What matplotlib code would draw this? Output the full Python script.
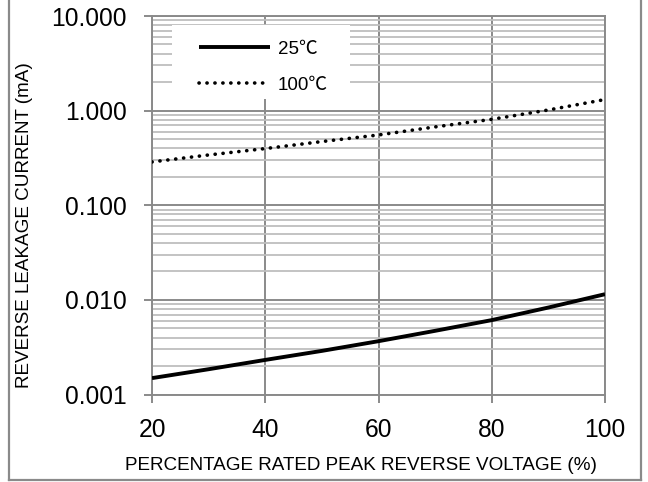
import matplotlib
matplotlib.use("Agg")
import matplotlib.pyplot as plt
from matplotlib.patches import Rectangle
from matplotlib.lines import Line2D
from matplotlib.ticker import FixedLocator, LogLocator, FuncFormatter, NullFormatter

# ---- data ----
voltage_pct = [20, 30, 40, 50, 60, 70, 80, 90, 100]
leak_25c = [0.00149, 0.00185, 0.00232, 0.00289, 0.00366, 0.00471, 0.00611, 0.0083, 0.01148]
leak_100c = [0.287, 0.340, 0.397, 0.471, 0.553, 0.673, 0.809, 1.016, 1.31]
series_labels = ["25℃", "100℃"]
x_ticks = [20, 40, 60, 80, 100]
y_ticks = [0.001, 0.01, 0.1, 1, 10]
x_label = "PERCENTAGE RATED PEAK REVERSE VOLTAGE (%)"
y_label = "REVERSE LEAKAGE CURRENT (mA)"

plt.rcParams['font.family'] = ['Liberation Sans', 'Noto Sans CJK SC', 'DejaVu Sans']

fig = plt.figure(figsize=(6.48, 4.82), dpi=100)
ax = fig.add_axes([152/648, 1-394.5/482, (605-152)/648, (394.5-16)/482])

ax.set_yscale('log')
ax.set_xlim(20, 100)
ax.set_ylim(0.001, 10)
ax.set_axisbelow(True)

major_c = '#8a8a8a'
minor_c = '#bebebe'

ax.xaxis.set_major_locator(FixedLocator(x_ticks))
ax.yaxis.set_major_locator(FixedLocator(y_ticks))
ax.yaxis.set_minor_locator(LogLocator(base=10, subs=range(2, 10)))
ax.yaxis.set_minor_formatter(NullFormatter())
ax.yaxis.set_major_formatter(FuncFormatter(lambda v, p: f"{v:.3f}"))

ax.grid(True, which='major', axis='both', color=major_c, linewidth=1.4)
ax.grid(True, which='minor', axis='y', color=minor_c, linewidth=1.3)

ax.tick_params(axis='both', which='major', direction='out', length=6, width=1.4,
               color=major_c, labelsize=17.7, labelcolor='black')
ax.tick_params(axis='y', which='major', pad=12)
ax.tick_params(axis='x', which='major', pad=11)
ax.tick_params(axis='y', which='minor', length=0)

for s in ax.spines.values():
    s.set_color(major_c)
    s.set_linewidth(1.4)

# legend white box
ax.add_patch(Rectangle((0.044, 0.78), 0.393, 0.196, transform=ax.transAxes,
                       facecolor='white', edgecolor='none', zorder=1))

l1, = ax.plot(voltage_pct, leak_25c, color='black', linewidth=2.8, zorder=3,
              solid_capstyle='butt', label=series_labels[0])
l2, = ax.plot(voltage_pct, leak_100c, color='black', linewidth=2.6, zorder=3,
              linestyle=(0, (0.05, 2.15)), dash_capstyle='round', label=series_labels[1])

leg = ax.legend(handles=[l1, l2], loc='upper left', bbox_to_anchor=(0.104, 0.935),
                frameon=False, fontsize=13.5, handlelength=3.8, handletextpad=0.4,
                labelspacing=1.0, borderpad=0, borderaxespad=0)
leg.set_zorder(5)

ax.set_xlabel(x_label, fontsize=13.6)
ax.set_ylabel(y_label, fontsize=13.6)
ax.xaxis.set_label_coords(0.461, -0.165)
ax.yaxis.set_label_coords(-0.263, 0.447)

# outer border
bc = '#8a8a8a'
fig.add_artist(Line2D([8.5/648, 8.5/648], [2/482, 1.01], transform=fig.transFigure, color=bc, linewidth=1.6))
fig.add_artist(Line2D([641/648, 641/648], [2/482, 1.01], transform=fig.transFigure, color=bc, linewidth=1.6))
fig.add_artist(Line2D([8.5/648, 641/648], [2/482, 2/482], transform=fig.transFigure, color=bc, linewidth=1.6))

fig.savefig("out.png", dpi=100)
